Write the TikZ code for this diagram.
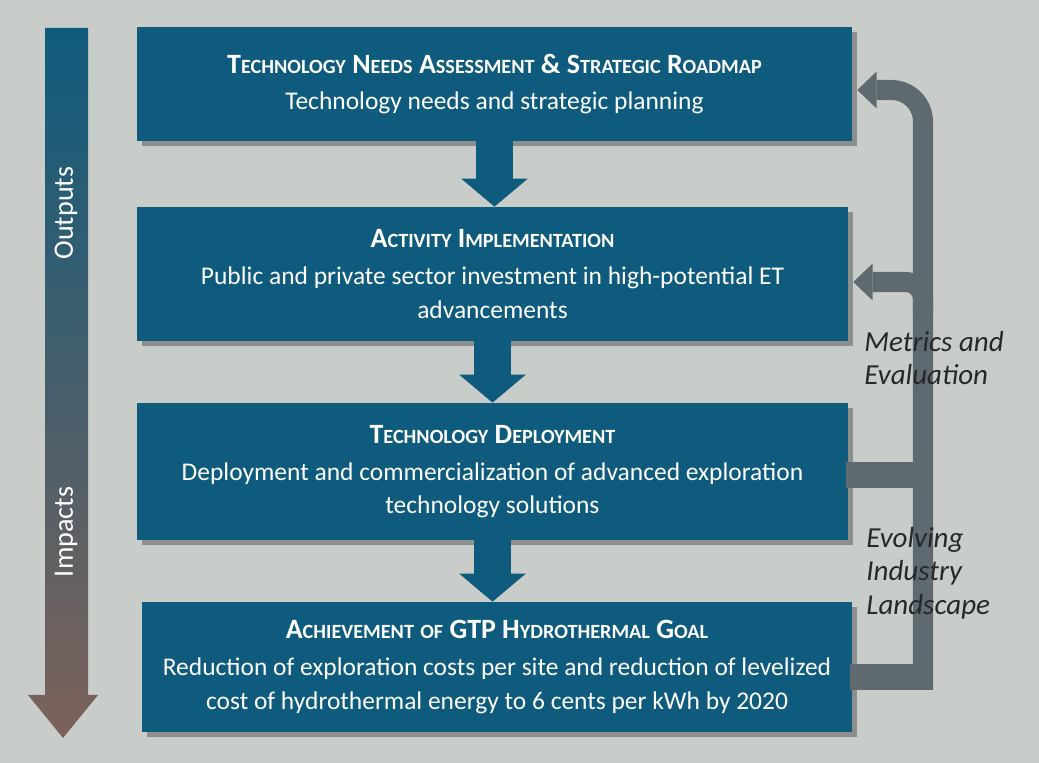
\documentclass[tikz,border=0pt]{standalone}
\usepackage{fontspec}
\setmainfont{Carlito}
\usetikzlibrary{arrows.meta,calc,shadows}

\definecolor{boxblue}{RGB}{15,91,125}
\definecolor{fbgrey}{RGB}{94,105,112}
\definecolor{bggrey}{RGB}{200,205,202}
\definecolor{impactbrown}{RGB}{124,98,90}
\definecolor{labelgrey}{RGB}{38,40,42}

% caps + small caps by hand
\newcommand{\capword}[2]{#1{\fontsize{11.5}{12}\selectfont #2}}

\tikzset{
	stage/.style={fill=boxblue, text=white, align=center, inner sep=0pt,
		font=\fontsize{14.5}{19}\selectfont,
		drop shadow={shadow xshift=3pt, shadow yshift=-3pt, fill=black, opacity=0.3}},
	flow/.style={boxblue, line width=20.5pt,
		-{Triangle[width=38pt, length=16pt, line width=0pt]}},
	fb/.style={fbgrey, line width=11.4pt,
		-{Triangle[width=21pt, length=11pt, line width=0pt]}},
	fbplain/.style={fbgrey, line width=14.5pt},
	fblabel/.style={text=labelgrey, align=left, anchor=north west, inner sep=0pt,
		font=\fontsize{16.5}{19}\selectfont\itshape},
	sidelabel/.style={text=white, rotate=90, font=\fontsize{16}{19}\selectfont}
}

\begin{document}
\begin{tikzpicture}[x=0.02cm, y=-0.02cm]

	\fill[bggrey] (0,0) rectangle (1039,763);
	\useasboundingbox (0,0) rectangle (1039,763);

	% outputs -> impacts
	\shade[top color=boxblue, bottom color=impactbrown]
		(45,28) -- (88,28) -- (88,695) -- (98,695) -- (63,738) -- (28,695) -- (45,695) -- cycle;
	\node[sidelabel] (outputs) at (66,213) {Outputs};
	\node[sidelabel] (impacts) at (66,532) {Impacts};

	% stages
	\node[stage, minimum width=14.3cm, minimum height=2.28cm] (roadmap) at (494.5,84)
		{{\fontsize{15.9}{19}\selectfont\bfseries\capword{T}{ECHNOLOGY} \capword{N}{EEDS} \capword{A}{SSESSMENT} \& \capword{S}{TRATEGIC} \capword{R}{OADMAP}}\\[2pt]
		Technology needs and strategic planning};
	\node[stage, minimum width=14.22cm, minimum height=2.68cm] (activity) at (492.5,274)
		{{\fontsize{15.9}{19}\selectfont\bfseries\capword{A}{CTIVITY} \capword{I}{MPLEMENTATION}}\\[2pt]
		Public and private sector investment in high-potential ET\\
		advancements};
	\node[stage, minimum width=14.22cm, minimum height=2.74cm] (deploy) at (492.5,471.5)
		{{\fontsize{15.9}{19}\selectfont\bfseries\capword{T}{ECHNOLOGY} \capword{D}{EPLOYMENT}}\\[2pt]
		Deployment and commercialization of advanced exploration\\
		technology solutions};
	\node[stage, minimum width=14.2cm, minimum height=2.6cm] (goal) at (497,667)
		{{\fontsize{15.9}{19}\selectfont\bfseries\capword{A}{CHIEVEMENT} {\fontsize{11.5}{12}\selectfont OF} GTP \capword{H}{YDROTHERMAL} \capword{G}{OAL}}\\[2pt]
		Reduction of exploration costs per site and reduction of levelized\\
		cost of hydrothermal energy to 6 cents per kWh by 2020};

	\draw[flow] (roadmap.south) -- (roadmap.south |- activity.north);
	\draw[flow] (activity.south) -- (activity.south |- deploy.north);
	\draw[flow] (deploy.south) -- (deploy.south |- goal.north);

	% metrics and evaluation loop
	\coordinate (fbbot) at (923,677);
	\coordinate (fbtop) at (923,90);
	\coordinate (fbmid) at (923,282);
	\coordinate (fbjoin) at (923,315);
	\coordinate (fbdep) at (923,475);
	\draw[fbplain] ($(deploy.east |- fbdep)+(-2,0)$) -- (fbdep);
	\draw[fbplain] ($(goal.east |- fbbot)+(-2,0)$) -- ($(fbbot)+(10,0)$);
	\draw[fb, rounded corners=18pt] ($(fbbot)+(0,13)$) -- (fbtop)
		-- ($(roadmap.east |- fbtop)+(5,0)$);
	\draw[fb, rounded corners=10pt] (fbjoin) -- (fbmid) -- ($(activity.east |- fbmid)+(5,0)$);

	\node[fblabel] (metrics) at (864,331) {Metrics and\\Evaluation};
	\node[fblabel] (landscape) at (866,527) {Evolving\\Industry\\Landscape};

\end{tikzpicture}
\end{document}
